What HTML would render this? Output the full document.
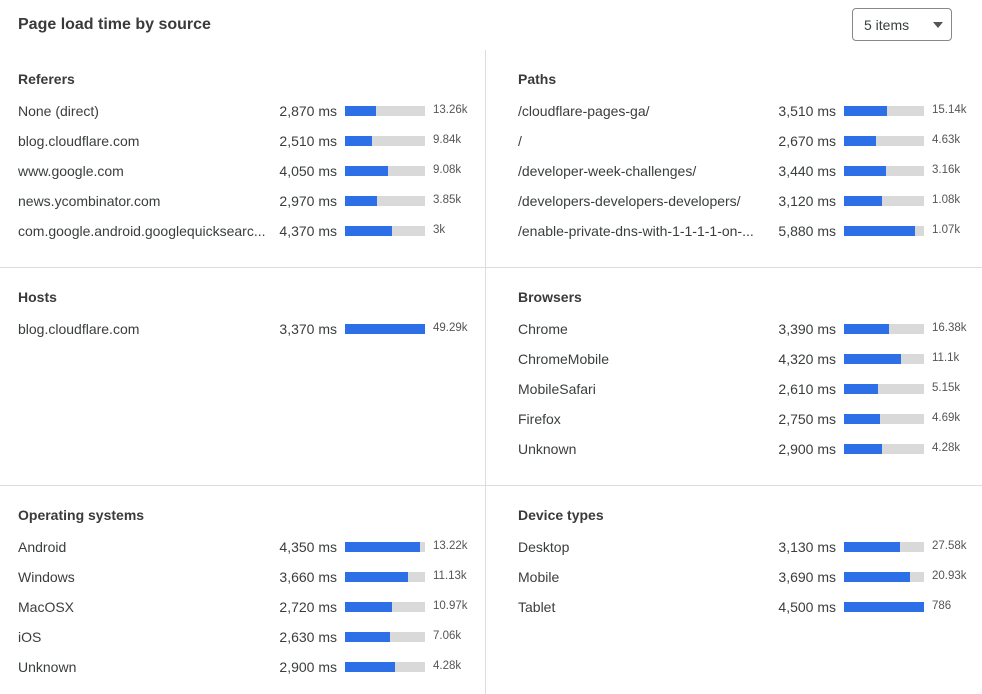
<!DOCTYPE html><html><head><style>
body{margin:0;width:982px;height:694px;background:#fff;font-family:"Liberation Sans",sans-serif;color:#3a3d3e;position:relative;overflow:hidden}
.a{position:absolute;white-space:nowrap}
.t{font-size:16px;font-weight:bold;color:#3a3a3a}
.h{font-size:14px;font-weight:bold;color:#3a3a3a}
.l{font-size:14px;line-height:16px}
.m{font-size:14px;line-height:16px;text-align:right;width:120px}
.b{height:10px;width:80px;background:#d9d9d9}
.b i{display:block;height:10px;background:#2c6fe6}
.c{font-size:11.5px;color:#555;line-height:14px}
.hl{position:absolute;height:1px;background:#ddd}
.vl{position:absolute;width:1px;background:#ddd}
</style></head><body>
<div class="a t" style="left:18px;top:16px">Page load time by source</div>
<div class="a" style="left:852px;top:8px;width:100px;height:33px;border:1px solid #888;border-radius:4px;font-size:14px;line-height:33px;box-sizing:border-box;padding-left:11px">5 items<span style="position:absolute;right:8px;top:13px;width:0;height:0;border-left:5px solid transparent;border-right:5px solid transparent;border-top:6px solid #555"></span></div>
<div class="vl" style="left:485px;top:50px;height:644px"></div>
<div class="hl" style="left:0;top:267px;width:982px"></div>
<div class="hl" style="left:0;top:485px;width:982px"></div>
<div id="c"></div>
<script>
var S=[[18,71,"Referers",[["None (direct)","2,870 ms",31,"13.26k"],["blog.cloudflare.com","2,510 ms",27,"9.84k"],["www.google.com","4,050 ms",43,"9.08k"],["news.ycombinator.com","2,970 ms",32,"3.85k"],["com.google.android.googlequicksearc...","4,370 ms",47,"3k"]]],
[518,71,"Paths",[["/cloudflare-pages-ga/","3,510 ms",43,"15.14k"],["/","2,670 ms",32,"4.63k"],["/developer-week-challenges/","3,440 ms",42,"3.16k"],["/developers-developers-developers/","3,120 ms",38,"1.08k"],["/enable-private-dns-with-1-1-1-1-on-...","5,880 ms",71,"1.07k"]]],
[18,289,"Hosts",[["blog.cloudflare.com","3,370 ms",80,"49.29k"]]],
[518,289,"Browsers",[["Chrome","3,390 ms",45,"16.38k"],["ChromeMobile","4,320 ms",57,"11.1k"],["MobileSafari","2,610 ms",34,"5.15k"],["Firefox","2,750 ms",36,"4.69k"],["Unknown","2,900 ms",38,"4.28k"]]],
[18,507,"Operating systems",[["Android","4,350 ms",75,"13.22k"],["Windows","3,660 ms",63,"11.13k"],["MacOSX","2,720 ms",47,"10.97k"],["iOS","2,630 ms",45,"7.06k"],["Unknown","2,900 ms",50,"4.28k"]]],
[518,507,"Device types",[["Desktop","3,130 ms",56,"27.58k"],["Mobile","3,690 ms",66,"20.93k"],["Tablet","4,500 ms",80,"786"]]]];
var h="";S.forEach(function(s){var x=s[0],y=s[1],o=x>100?499:0;
h+='<div class="a h" style="left:'+x+'px;top:'+y+'px">'+s[2]+'</div>';
s[3].forEach(function(r,i){var cy=y+40+i*30;
h+='<div class="a l" style="left:'+x+'px;top:'+(cy-8)+'px">'+r[0]+'</div>';
h+='<div class="a m" style="left:'+(217+o)+'px;top:'+(cy-8)+'px">'+r[1]+'</div>';
h+='<div class="a b" style="left:'+(345+o)+'px;top:'+(cy-5)+'px"><i style="width:'+r[2]+'px"></i></div>';
h+='<div class="a c" style="left:'+(433+o)+'px;top:'+(cy-8)+'px">'+r[3]+'</div>';});});
document.getElementById("c").innerHTML=h;
</script></body></html>
